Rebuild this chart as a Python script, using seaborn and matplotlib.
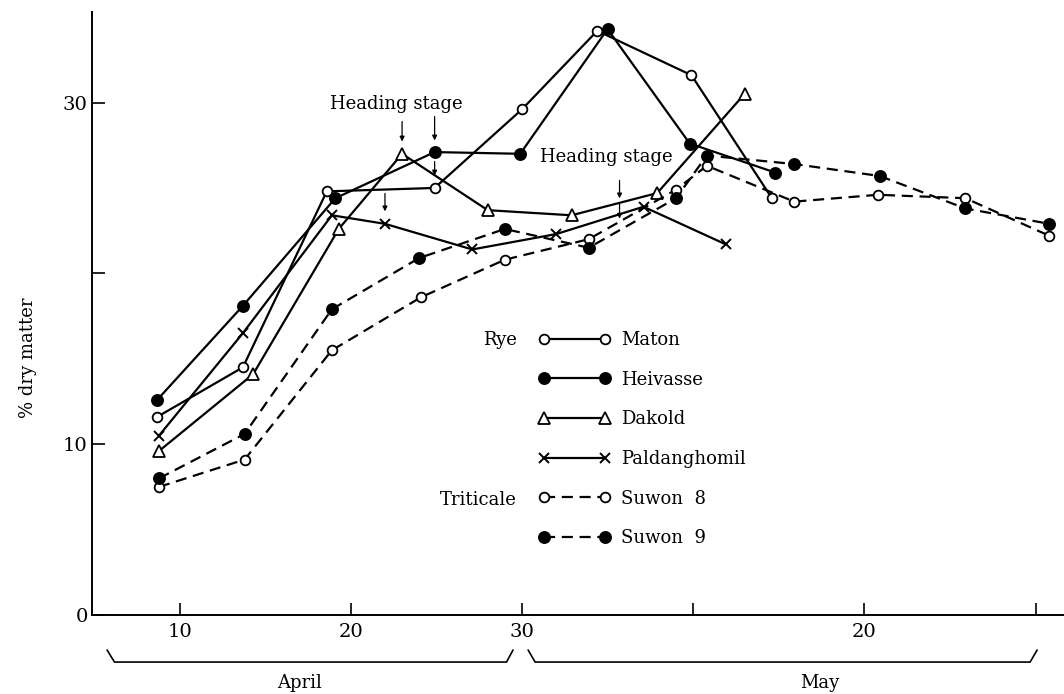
import numpy as np
import pandas as pd
import matplotlib
matplotlib.use("Agg")
import matplotlib.pyplot as plt
from matplotlib.lines import Line2D
import seaborn as sns

# ---- data (x = day counted from 1 April; 31 = 1 May) ----
maton_x = [8.7, 13.7, 18.6, 24.9, 30.0, 34.4, 39.9, 44.6]
maton_y = [11.6, 14.5, 24.8, 25.0, 29.6, 34.2, 31.6, 24.4]

heivasse_x = [8.7, 13.7, 19.1, 24.9, 29.9, 35.0, 39.8, 44.8]
heivasse_y = [12.6, 18.1, 24.4, 27.1, 27.0, 34.3, 27.6, 25.9]

dakold_x = [8.8, 14.3, 19.3, 23.0, 28.0, 32.9, 37.9, 43.0]
dakold_y = [9.6, 14.1, 22.6, 27.0, 23.7, 23.4, 24.7, 30.5]

paldang_x = [8.8, 13.7, 18.9, 22.0, 27.1, 32.0, 37.1, 41.9]
paldang_y = [10.5, 16.5, 23.4, 22.9, 21.4, 22.3, 23.9, 21.7]

suwon8_x = [8.8, 13.8, 18.9, 24.1, 29.0, 33.9, 39.0, 40.8, 45.9, 50.8, 55.9, 60.8]
suwon8_y = [7.5, 9.1, 15.5, 18.6, 20.8, 22.0, 24.9, 26.3, 24.2, 24.6, 24.4, 22.2]

suwon9_x = [8.8, 13.8, 18.9, 24.0, 29.0, 33.9, 39.0, 40.8, 45.9, 50.9, 55.9, 60.8]
suwon9_y = [8.0, 10.6, 17.9, 20.9, 22.6, 21.5, 24.4, 26.9, 26.4, 25.7, 23.8, 22.9]

x_ticks = [10, 20, 30, 40, 50, 60]
x_tick_labels = ["10", "20", "30", "", "20", ""]
y_ticks = [0, 10, 20, 30]
y_tick_labels = ["0", "10", "", "30"]

series_names = ["Maton", "Heivasse", "Dakold", "Paldanghomil", "Suwon  8", "Suwon  9"]

# ---- style ----
sns.set_style("ticks")
plt.rcParams["font.family"] = ["DejaVu Serif", "DejaVu Sans"]
plt.rcParams["text.color"] = "black"
plt.rcParams["axes.labelcolor"] = "black"
plt.rcParams["xtick.color"] = "black"
plt.rcParams["ytick.color"] = "black"
FS = 13

fig = plt.figure(figsize=(10.64, 6.94), dpi=100)
ax = fig.add_axes([0.0865, 0.1138, 0.9135, 0.8689])

lw = 1.6
styles = [
    dict(marker="o", linestyle="-", mfc="white", ms=7),
    dict(marker="o", linestyle="-", mfc="black", ms=8),
    dict(marker="^", linestyle="-", mfc="white", ms=9),
    dict(marker="x", linestyle="-", mfc="black", ms=7, mew=1.4),
    dict(marker="o", linestyle=(0, (5, 3)), mfc="white", ms=7),
    dict(marker="o", linestyle=(0, (5, 3)), mfc="black", ms=8),
]
xs = [maton_x, heivasse_x, dakold_x, paldang_x, suwon8_x, suwon9_x]
ys = [maton_y, heivasse_y, dakold_y, paldang_y, suwon8_y, suwon9_y]

handles = []
for name, x, y, st in zip(series_names, xs, ys, styles):
    df = pd.DataFrame({"day": x, "dm": y})
    st2 = dict(st)
    mew = st2.pop("mew", 1.3)
    sns.lineplot(data=df, x="day", y="dm", ax=ax, color="black", lw=lw,
                 mec="black", mew=mew, legend=False, **st2)
    handles.append(Line2D([], [], color="black", lw=lw, mec="black",
                          mew=mew, **st2))

ax.set_xlim(4.89, 61.66)
ax.set_ylim(0, 35.3)
ax.set_xticks(x_ticks)
ax.set_xticklabels(x_tick_labels, fontsize=FS + 1)
ax.set_yticks(y_ticks)
ax.set_yticklabels(y_tick_labels, fontsize=FS + 1)
ax.tick_params(axis="both", direction="in", length=9, width=1.2,
               color="black", labelcolor="black")
ax.tick_params(axis="x", pad=6)
ax.tick_params(axis="y", pad=3)
for s in ["top", "right"]:
    ax.spines[s].set_visible(False)
for s in ["left", "bottom"]:
    ax.spines[s].set_linewidth(1.4)
    ax.spines[s].set_color("black")

ax.set_xlabel("")
ax.set_ylabel("% dry matter", fontsize=FS, color="black")
ax.yaxis.set_label_coords(-0.057, 0.426)

# legend
leg = ax.legend(handles, series_names, loc="upper left",
                bbox_to_anchor=(0.459, 0.471), frameon=False, fontsize=FS,
                numpoints=2, handlelength=4.0, handletextpad=0.6,
                labelspacing=1.2, borderpad=0, borderaxespad=0,
                labelcolor="black")
ax.text(0.437, 0.456, "Rye", transform=ax.transAxes, ha="right",
        va="center", fontsize=FS)
ax.text(0.437, 0.191, "Triticale", transform=ax.transAxes, ha="right",
        va="center", fontsize=FS)

# heading stage annotations
ax.text(22.69, 29.94, "Heading stage", ha="center", va="center", fontsize=FS)
ax.text(34.9, 26.82, "Heading stage", ha="center", va="center", fontsize=FS)
arrows = [
    (23.0, 28.89, 27.72),
    (24.9, 29.18, 27.78),
    (24.9, 26.55, 25.73),
    (22.0, 24.68, 23.63),
    (35.7, 25.44, 24.39),
    (35.7, 24.1, 23.2),
]
for x, y0, y1 in arrows:
    ax.annotate("", xy=(x, y1), xytext=(x, y0),
                arrowprops=dict(arrowstyle="-|>", lw=0.9, color="black",
                                mutation_scale=7, shrinkA=0, shrinkB=0))

# month brackets below the axis
tr = ax.get_xaxis_transform()
ax.plot([5.77, 6.2, 29.1, 29.48], [-0.058, -0.078, -0.078, -0.058],
        transform=tr, color="black", lw=1.2, clip_on=False)
ax.plot([30.36, 30.77, 59.68, 60.09], [-0.058, -0.078, -0.078, -0.058],
        transform=tr, color="black", lw=1.2, clip_on=False)
ax.text(17.0, -0.113, "April", transform=tr, ha="center", va="center",
        fontsize=FS)
ax.text(47.4, -0.113, "May", transform=tr, ha="center", va="center",
        fontsize=FS)

fig.savefig("out.png", dpi=100)
